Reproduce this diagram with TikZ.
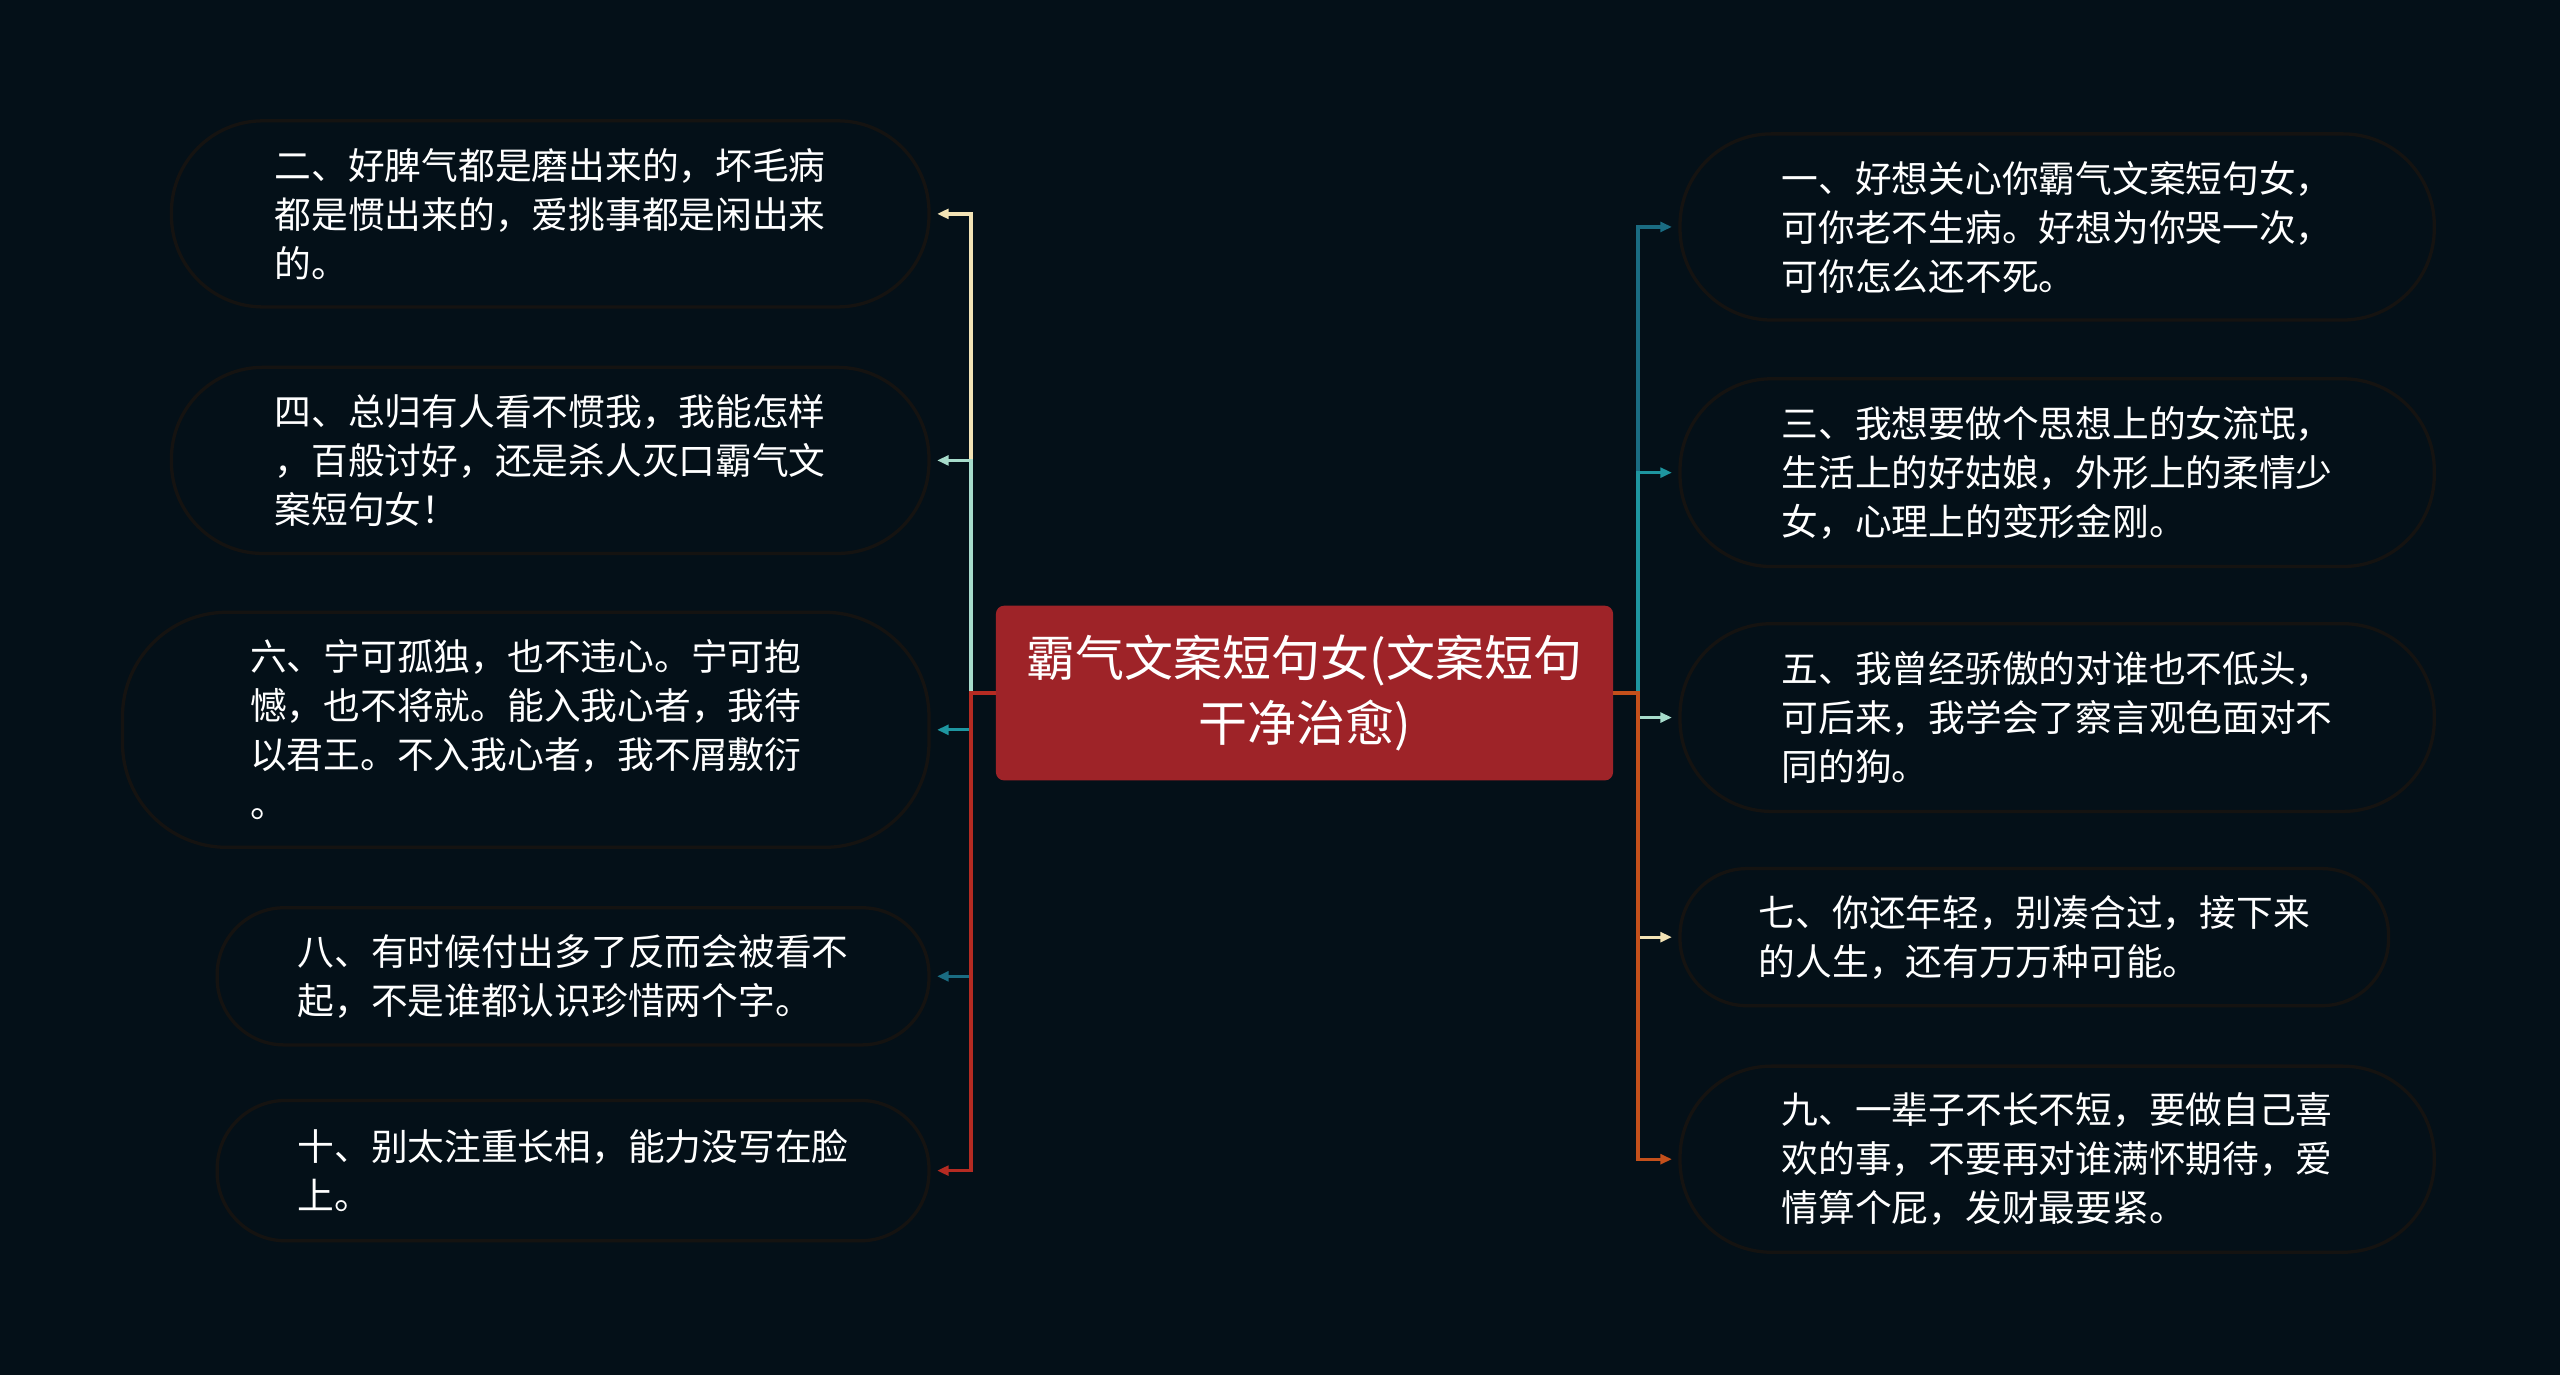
\documentclass[tikz,border=0pt]{standalone}
\usepackage{fontspec}
\newfontfamily\cjk{Noto Sans CJK SC}
\usepackage{tikz}
\usetikzlibrary{arrows.meta}
\usepackage{xcolor}
\definecolor{mmbg}{RGB}{4,16,24}
\definecolor{mmrim}{RGB}{21,19,17}
\definecolor{mmroot}{RGB}{158,35,40}
\definecolor{mmcream}{RGB}{243,227,181}
\definecolor{mmmint}{RGB}{167,220,203}
\definecolor{mmteal}{RGB}{30,150,160}
\definecolor{mmdeep}{RGB}{26,108,130}
\definecolor{mmred}{RGB}{181,43,34}
\definecolor{mmrust}{RGB}{196,80,27}
\tikzset{
  rootnode/.style={rectangle,fill=mmroot,rounded corners=5pt,text=white,align=center,
    minimum width=378pt,minimum height=107pt,font=\cjk\fontsize{30}{40}\selectfont},
  leafnode/.style={rectangle,draw=mmrim,line width=2pt,rounded corners=#1,text=white,align=left,
    font=\cjk\fontsize{22.5}{30}\selectfont},
  leafnode/.default=56pt,
  brarrow/.style={-{Triangle[length=7pt,width=6pt]},line width=2pt,shorten >=4pt}
}

\begin{document}
\begin{tikzpicture}[x=1pt,y=-1pt]
  \fill[mmbg] (0,0) rectangle (1568,842);
  \useasboundingbox (0,0) rectangle (1568,842);
  \node[rootnode] (root) at (799,424.5) {霸气文案短句女(文案短句\\干净治愈)};
  % left side
  \node[leafnode,minimum width=464pt,minimum height=114pt] (n2) at (337,131)
    {二、好脾气都是磨出来的，坏毛病\\都是惯出来的，爱挑事都是闲出来\\的。};
  \node[leafnode,minimum width=464pt,minimum height=114pt] (n4) at (337,282)
    {四、总归有人看不惯我，我能怎样\\，百般讨好，还是杀人灭口霸气文\\案短句女！};
  \node[leafnode=64pt,minimum width=494pt,minimum height=144pt] (n6) at (322,447)
    {六、宁可孤独，也不违心。宁可抱\\憾，也不将就。能入我心者，我待\\以君王。不入我心者，我不屑敷衍\\。};
  \node[leafnode=41pt,minimum width=436pt,minimum height=84pt] (n8) at (351,598)
    {八、有时候付出多了反而会被看不\\起，不是谁都认识珍惜两个字。};
  \node[leafnode=42pt,minimum width=436pt,minimum height=86pt] (n10) at (351,717)
    {十、别太注重长相，能力没写在脸\\上。};
  % right side
  \node[leafnode,minimum width=462pt,minimum height=114pt] (n1) at (1260,139)
    {一、好想关心你霸气文案短句女，\\可你老不生病。好想为你哭一次，\\可你怎么还不死。};
  \node[leafnode,minimum width=462pt,minimum height=115pt] (n3) at (1260,289.5)
    {三、我想要做个思想上的女流氓，\\生活上的好姑娘，外形上的柔情少\\女，心理上的变形金刚。};
  \node[leafnode,minimum width=462pt,minimum height=115pt] (n5) at (1260,439.5)
    {五、我曾经骄傲的对谁也不低头，\\可后来，我学会了察言观色面对不\\同的狗。};
  \node[leafnode=41pt,minimum width=434pt,minimum height=84pt] (n7) at (1246,574)
    {七、你还年轻，别凑合过，接下来\\的人生，还有万万种可能。};
  \node[leafnode,minimum width=462pt,minimum height=114pt] (n9) at (1260,710)
    {九、一辈子不长不短，要做自己喜\\欢的事，不要再对谁满怀期待，爱\\情算个屁，发财最要紧。};
  \draw[brarrow,mmcream] (root.west) -- ++(-15,0) |- (n2.east);
  \draw[brarrow,mmmint] (root.west) -- ++(-15,0) |- (n4.east);
  \draw[brarrow,mmteal] (root.west) -- ++(-15,0) |- (n6.east);
  \draw[brarrow,mmdeep] (root.west) -- ++(-15,0) |- (n8.east);
  \draw[brarrow,mmred] (root.west) -- ++(-15,0) |- (n10.east);
  \draw[brarrow,mmdeep] (root.east) -- ++(15,0) |- (n1.west);
  \draw[brarrow,mmteal] (root.east) -- ++(15,0) |- (n3.west);
  \draw[brarrow,mmmint] (root.east) -- ++(15,0) |- (n5.west);
  \draw[brarrow,mmcream] (root.east) -- ++(15,0) |- (n7.west);
  \draw[brarrow,mmrust] (root.east) -- ++(15,0) |- (n9.west);
\end{tikzpicture}
\end{document}
